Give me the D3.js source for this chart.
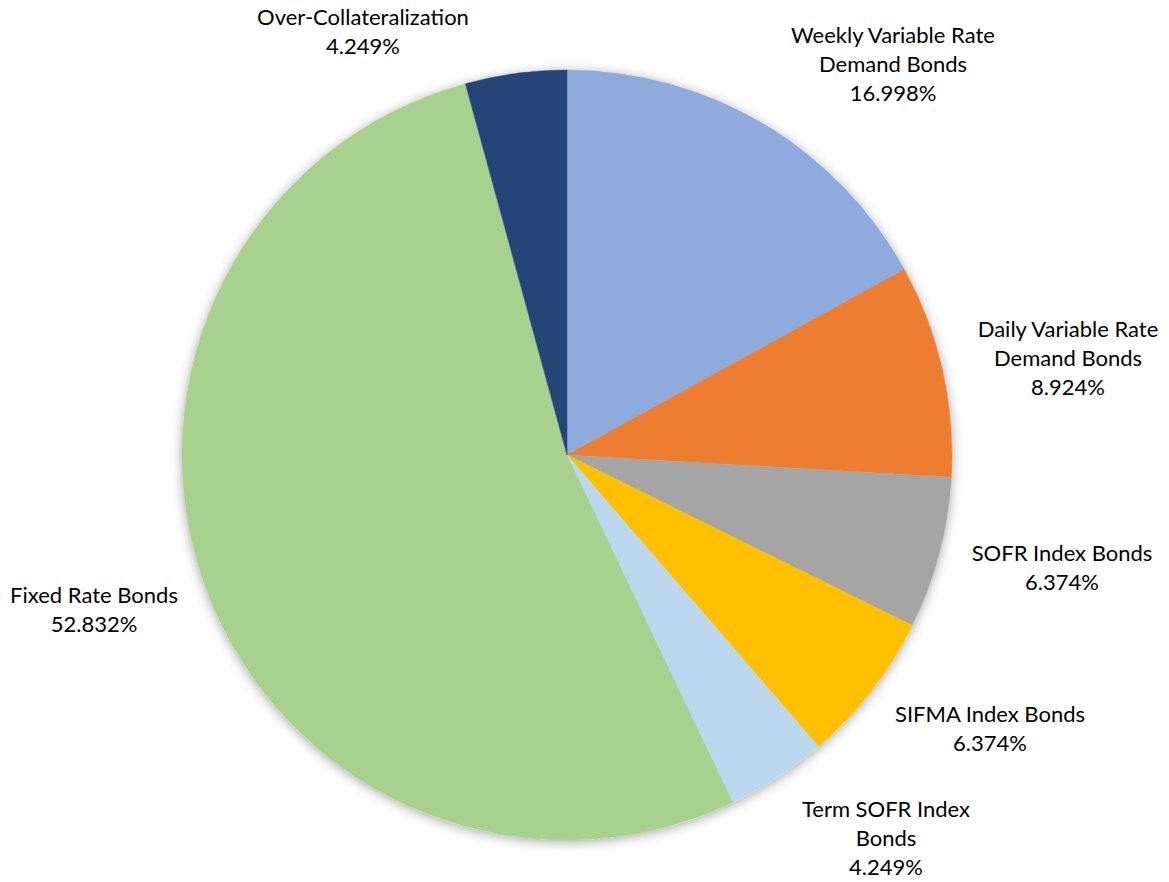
<!DOCTYPE html>
<html>
<head>
<meta charset="utf-8">
<script src="https://cdn.jsdelivr.net/npm/d3@7"></script>
<style>
  html, body { margin: 0; padding: 0; background: #ffffff; }
  svg { display: block; }
  text { font-family: Lato, "Open Sans", "Liberation Sans", sans-serif; fill: #000; }
</style>
</head>
<body>
<svg id="chart" width="1169" height="882"></svg>
<script>
// Bond portfolio composition, clockwise from 12 o'clock
const categories = [
  "Weekly Variable Rate Demand Bonds",
  "Daily Variable Rate Demand Bonds",
  "SOFR Index Bonds",
  "SIFMA Index Bonds",
  "Term SOFR Index Bonds",
  "Fixed Rate Bonds",
  "Over-Collateralization"
];
const shares = [16.998, 8.924, 6.374, 6.374, 4.249, 52.832, 4.249];
const colors = ["#8FAADC", "#ED7D31", "#A5A5A5", "#FFC000", "#BDD7EE", "#A9D18E", "#264478"];

// Label lines as wrapped in the chart
const labelLines = [
  ["Weekly Variable Rate", "Demand Bonds"],
  ["Daily Variable Rate", "Demand Bonds"],
  ["SOFR Index Bonds"],
  ["SIFMA Index Bonds"],
  ["Term SOFR Index", "Bonds"],
  ["Fixed Rate Bonds"],
  ["Over-Collateralization"]
];
// Label anchor points (centre x, first baseline y)
const labelPos = [
  [893, 43], [1068, 337], [1062, 561], [990, 722], [886, 817], [94, 603], [363, 25]
];

const cx = 567, cy = 455, R = 385;
const svg = d3.select("#chart");

const defs = svg.append("defs");
const f = defs.append("filter").attr("id", "pieShadow")
  .attr("x", "-20%").attr("y", "-20%").attr("width", "140%").attr("height", "140%");
f.append("feDropShadow").attr("dx", 0).attr("dy", 2).attr("stdDeviation", 6)
  .attr("flood-color", "#000").attr("flood-opacity", 0.35);

const data = categories.map((c, i) => ({ name: c, value: shares[i], color: colors[i], i }));

const pie = d3.pie().value(d => d.value).sort(null);
const arc = d3.arc().innerRadius(0).outerRadius(R);

const g = svg.append("g").attr("transform", `translate(${cx},${cy})`);

// soft shadow disc underneath the slices
g.append("circle").attr("r", R).attr("fill", "#fff").attr("filter", "url(#pieShadow)");

g.selectAll("path.slice")
  .data(pie(data))
  .join("path")
  .attr("class", "slice")
  .attr("d", arc)
  .attr("fill", d => d.data.color)
  .attr("stroke", d => d.data.color)
  .attr("stroke-width", 0.5);

const fmt = v => d3.format(".3f")(v) + "%";
const lh = 29;

const labels = svg.append("g").selectAll("text.lbl")
  .data(data)
  .join("text")
  .attr("class", "lbl")
  .attr("text-anchor", "middle")
  .attr("font-size", 22)
  .attr("x", d => labelPos[d.i][0])
  .attr("y", d => labelPos[d.i][1]);

labels.each(function(d) {
  const t = d3.select(this);
  const lines = labelLines[d.i].concat([fmt(d.value)]);
  lines.forEach((ln, k) => {
    t.append("tspan").attr("x", labelPos[d.i][0]).attr("dy", k === 0 ? 0 : lh).text(ln);
  });
});
</script>
</body>
</html>
